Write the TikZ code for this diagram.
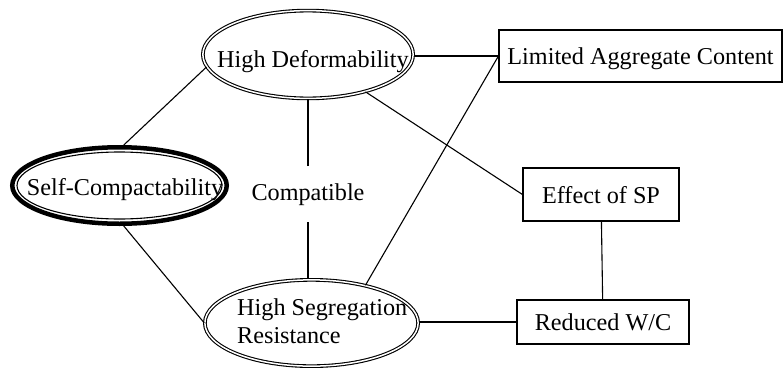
\documentclass[tikz,border=0pt]{standalone}
\usepackage{fontspec}
\setmainfont{Liberation Serif}
\usetikzlibrary{shapes.geometric}

\begin{document}
\begin{tikzpicture}[x=1pt, y=-1pt,
    font=\fontsize{24.2}{28}\selectfont,
    oval/.style={ellipse, draw, double, double distance=1.5pt, line width=1.1pt, inner sep=0pt},
    thickoval/.style={ellipse, draw, line width=4.5pt, inner sep=0pt},
    box/.style={rectangle, draw, line width=1.1pt, text height=19pt, text depth=2pt},
    txt/.style={inner sep=0pt, anchor=base},
    link/.style={line width=1.1pt}]
  \useasboundingbox (0,0) rectangle (783,367);

  \node[oval, minimum width=210.3pt, minimum height=87.8pt] (hd) at (308,54.5) {};
  \node[txt] (hdtext) at (313,67) {High Deformability};

  \node[thickoval, minimum width=214.5pt, minimum height=76.5pt] (sc) at (119.5,185.5) {};
  \draw[line width=1.1pt] (sc.center) ellipse [x radius=102.5pt, y radius=33.5pt];
  \node[txt] (sctext) at (125,195) {Self-Compactability};

  \node[oval, minimum width=213.3pt, minimum height=86.3pt] (hsr) at (311.5,323) {};
  \node[inner sep=0pt, align=left, anchor=north west] (hsrtext) at (237,298.5)
    {High Segregation\\Resistance};

  \node[txt, inner sep=17pt] (comp) at (308,200) {Compatible};

  \node[box, minimum width=283pt, minimum height=52pt] (lac) at (640.5,56) {Limited Aggregate Content};
  \node[box, minimum width=156pt, minimum height=53pt] (esp) at (601,194.5) {Effect of SP};
  \node[box, minimum width=172pt, minimum height=44pt] (rwc) at (603,322) {Reduced W/C};

  \draw[link] (hd.187) -- (sc.84);
  \draw[link] (sc.276) -- (hsr.west);
  \draw[link] (comp.north) -- (comp.north |- hd.south);
  \draw[link] (comp.south) -- (comp.south |- hsr.north);
  \draw[link] (lac.west) -- (lac.west -| hd.east);
  \draw[link] (hsr.35) -- (lac.west);
  \draw[link] (hd.327) -- (esp.west);
  \draw[link] (esp) -- (rwc);
  \draw[link] (rwc.west) -- (rwc.west -| hsr.east);
\end{tikzpicture}
\end{document}
